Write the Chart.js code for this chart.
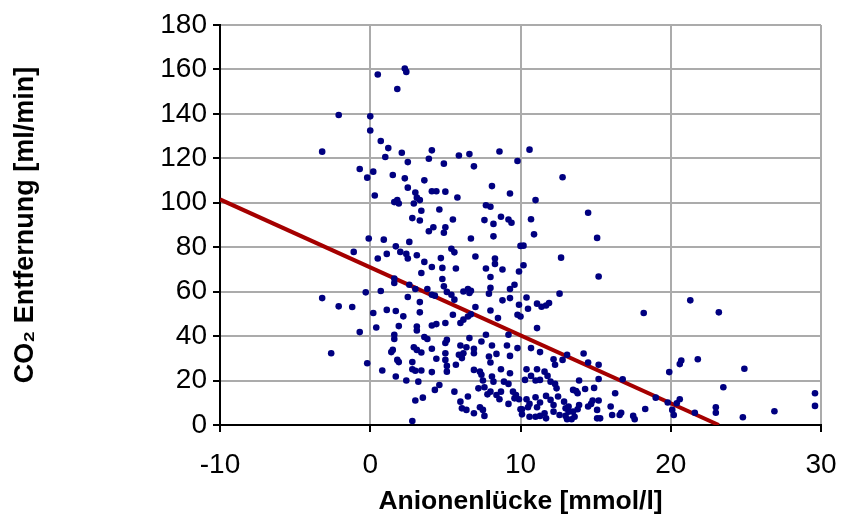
<!DOCTYPE html>
<html>
<head>
<meta charset="utf-8">
<script src="https://cdn.jsdelivr.net/npm/chart.js@4/dist/chart.umd.min.js"></script>
<style>
  html, body { margin: 0; padding: 0; background: #fff; }
  #wrap { width: 841px; height: 516px; }
</style>
</head>
<body>
<div id="wrap"><canvas id="chart" width="841" height="516"></canvas></div>
<script>
// anion gap [mmol/l] and CO2 removal [ml/min]
const anionGap = [
    2.3, 2.4, 0.5, 1.8, -2.1, 0.0, 0.0, -3.2, 0.7, 1.2, 2.1, 4.1, 1.0, 2.5, 3.9, -0.7, 0.2, -0.2, 1.5, 2.3, 3.6,
    4.9, 5.9, 6.6, 6.9, 8.6, 9.8, 10.6, 12.8, 8.1,
    0.3, 2.5, 3.0, 4.1, 4.4, 1.6, 1.8, 1.9, 2.9, 3.1, 3.3, 3.4, 2.8, 3.3, 3.9, 4.2, -0.1, 0.9, 2.6, 1.7,
    -1.1, 1.1, 2.0, 2.4, 2.5, 3.1, 0.5, 3.6, 4.1, 3.4, 1.6, 1.6, 2.6, 3.0, 3.8, 4.1, 4.3, -0.3, 0.7, -3.2,
    2.5, 3.3, -2.1, -1.2, 1.1, 1.7,
    0.2, 2.2, 3.3, 0.4, -0.7, 1.9, 3.1, 3.1, 4.1, 4.4, 1.6, 1.6, 3.6, 3.8, -2.6, 1.5, 1.4, 2.9, 3.1, 3.4,
    4.1, 4.4, -0.2, 1.8, 1.9, 2.8, 2.8, 3.0, 3.4, 4.1, 0.8, 1.7, 2.4, 3.2, 4.6, 4.3, 3.5, 3.0, 2.8,
    5.0, 5.8, 9.3, 11.0, 4.6, 7.7, 8.0, 5.5, 7.6, 8.2, 8.7, 9.2, 9.4, 10.7, 5.0, 4.9, 6.7, 8.2, 10.9, 10.0,
    10.2, 5.4, 5.6, 7.0, 8.3, 8.3, 12.7, 4.7, 4.8, 5.7, 7.7, 8.8, 10.2, 9.9, 8.0, 4.8, 9.6, 9.3, 8.0, 7.9,
    4.9, 5.1, 5.4, 6.2, 6.5, 6.6, 6.7, 8.8, 9.3, 10.4, 12.6, 5.6, 9.9, 10.5, 11.1, 11.4, 11.7, 11.9, 7.0, 8.0,
    5.5, 5.0, 6.0, 6.2, 6.5, 6.7, 8.5, 9.8, 10.0, 11.1, 9.2, 5.1, 5.0, 6.6, 7.7, 7.4, 8.1, 9.1, 9.8, 6.0,
    6.4, 6.9, 6.9, 5.0, 5.0, 5.1, 5.1, 5.9, 6.2, 6.1, 7.9, 8.4, 8.0, 9.3, 10.7, 11.3, 13.1, 12.8, 12.2, 12.3,
    5.7, 6.9, 7.3, 7.4, 7.5, 8.1, 8.2, 8.7, 9.3, 8.9, 9.2, 10.4, 11.1, 11.6, 11.8, 10.3, 10.7, 11.0, 11.3, 12.0,
    12.3, 12.4, 5.6, 6.5, 7.2, 7.6, 8.0, 7.8, 8.4, 8.6, 8.7, 9.5, 9.7, 9.9, 9.6, 9.2, 10.4, 10.6, 10.5, 10.1,
    11.0, 11.3, 11.1, 11.7, 12.0, 12.2, 12.5, 12.9, 13.0, 13.0, 13.2, 6.0, 6.1, 6.4, 6.9, 7.3, 7.5, 7.6, 10.0, 10.1,
    10.6, 11.0, 11.3, 11.6, 11.7, 12.2, 12.6, 13.1, 13.2,
    18.2, 14.2, 14.5, 15.2, 15.2, 13.9, 16.8, 14.3, 14.9, 13.5, 13.7, 13.8, 16.3, 14.8, 15.2, 14.7, 14.5, 13.9, 13.8, 16.0,
    15.1, 13.5, 13.6, 13.4, 15.1, 15.3, 16.1, 16.6, 16.7, 17.5, 17.6, 18.3, 19.0, 19.9, 20.6, 20.7, 21.8, 19.8, 20.1, 20.2,
    20.4, 20.6, 21.6,
    14.5, 15.1, 15.2, 21.3,
    23.2, 24.9, 23.5, 23.0, 23.0, 24.8, 26.9, 29.6, 29.6
];
const co2Removal = [
    160.4, 158.9, 157.7, 151.2, 139.5, 138.9, 132.5, 123.0, 127.8, 124.6, 122.5, 123.6, 120.6, 118.3, 119.8, 115.2, 114.0, 111.3, 112.5, 111.0, 110.1,
    117.6, 121.3, 121.9, 116.4, 123.1, 118.8, 123.9, 111.5, 107.5,
    103.3, 106.8, 104.6, 105.2, 105.2, 100.3, 101.2, 99.7, 99.7, 102.3, 101.2, 96.4, 93.1, 92.0, 87.2, 89.0, 83.9, 83.4, 82.4, 80.4,
    77.9, 77.0, 77.9, 77.0, 74.9, 76.4, 74.9, 73.4, 71.1, 68.4, 65.9, 63.9, 63.1, 61.2, 61.2, 58.6, 58.2, 59.7, 60.3, 57.1,
    57.6, 55.3, 53.4, 53.1, 51.8, 51.3,
    50.4, 48.9, 50.7, 43.9, 41.8, 44.5, 44.3, 42.5, 44.8, 45.4, 40.6, 38.7, 39.6, 38.7, 32.3, 33.8, 32.8, 35.0, 33.8, 32.6,
    34.3, 29.8, 27.8, 29.3, 28.3, 28.3, 25.1, 24.4, 24.5, 23.8, 24.5, 21.8, 20.0, 19.5, 18.0, 15.8, 12.3, 11.0, 1.8,
    105.0, 102.4, 104.2, 101.2, 97.0, 98.9, 98.2, 92.5, 92.2, 90.5, 93.7, 92.5, 91.0, 92.6, 89.0, 86.5, 83.9, 84.9, 85.8, 80.6,
    80.7, 79.3, 77.7, 75.8, 74.9, 72.5, 75.3, 75.1, 70.7, 70.4, 70.4, 70.0, 71.9, 69.1, 66.6, 65.7, 63.1, 61.2, 61.7, 59.1,
    62.4, 59.9, 58.6, 60.1, 61.2, 59.4, 60.4, 56.1, 57.1, 57.4, 59.1, 56.4, 54.1, 52.3, 54.6, 53.2, 53.8, 54.9, 53.1, 51.5,
    49.6, 45.9, 45.9, 47.4, 48.8, 49.8, 48.1, 49.6, 48.8, 43.6, 40.6, 38.3, 36.9, 39.1, 40.6, 37.6, 35.8, 35.8, 34.6, 35.8,
    35.0, 34.3, 32.3, 32.3, 29.3, 26.6, 24.0, 31.6, 32.3, 30.1, 30.8, 32.0, 28.1, 31.1, 34.6, 32.8, 31.6, 29.3, 29.6, 27.1,
    27.1, 24.8, 24.0, 22.6, 20.0, 21.8, 19.5, 25.1, 23.3, 19.5, 18.5, 25.1, 25.1, 24.0, 22.1, 20.3, 22.1, 20.0, 20.3, 19.5,
    18.5, 16.5, 15.0, 12.8, 16.5, 17.0, 15.0, 13.8, 13.5, 11.6, 15.0, 15.0, 13.5, 11.6, 12.0, 9.5, 11.6, 9.5, 8.0, 7.1,
    12.5, 10.1, 8.0, 13.1, 11.3, 9.0, 12.8, 10.5, 7.5, 4.1, 6.0, 10.5, 7.5, 6.8, 5.3, 8.0, 6.8, 4.1, 7.1, 4.8,
    3.7, 3.7, 4.1, 5.3, 3.0, 6.0, 4.5, 2.6, 8.3,
    50.4, 32.2, 28.1, 27.1, 20.7, 20.0, 20.6, 16.2, 16.7, 15.8, 15.3, 14.3, 14.3, 11.0, 11.0, 9.5, 8.3, 9.0, 7.1, 8.3,
    6.8, 6.0, 3.7, 2.6, 3.0, 3.0, 4.5, 4.5, 5.5, 4.1, 2.6, 7.2, 12.3, 23.8, 27.4, 29.0, 29.6, 10.1, 6.8, 4.5,
    9.8, 11.6, 5.5,
    95.5, 84.2, 66.8, 56.1,
    50.7, 25.3, 17.0, 8.0, 5.5, 3.5, 6.2, 14.3, 8.6
];

// regression line end points
const fitX = [-10, 23.2];
const fitY = [101.5, 0];

const xTicks = [-10, 0, 10, 20, 30];
const yTicks = [0, 20, 40, 60, 80, 100, 120, 140, 160, 180];

const FONT = 'Liberation Sans, Arial, sans-serif';

const ctx = document.getElementById('chart').getContext('2d');
new Chart(ctx, {
    type: 'scatter',
    data: {
        datasets: [{
            label: 'CO2',
            data: anionGap.map((x, i) => ({ x: x, y: co2Removal[i] })),
            backgroundColor: '#000080',
            borderWidth: 0,
            pointRadius: 3.3,
            pointHoverRadius: 3.3
        }, {
            type: 'line',
            label: 'Fit',
            data: fitX.map((x, i) => ({ x: x, y: fitY[i] })),
            borderColor: '#a50000',
            borderWidth: 4,
            pointRadius: 0,
            fill: false
        }]
    },
    options: {
        responsive: false,
        animation: false,
        layout: { padding: { left: 0, right: 20, top: 25, bottom: 0 } },
        plugins: {
            legend: { display: false },
            tooltip: { enabled: false }
        },
        scales: {
            x: {
                type: 'linear',
                min: -10,
                max: 30,
                afterFit: s => { s.height = 91; s.paddingLeft = 0; s.paddingRight = 0; },
                afterBuildTicks: s => { s.ticks = xTicks.map(v => ({ value: v })); },
                ticks: {
                    color: '#000',
                    font: { family: FONT, size: 28 },
                    padding: 16
                },
                grid: { color: '#ababab', lineWidth: 2, tickColor: '#000', tickLength: 7 },
                border: { color: '#000', width: 2 },
                title: {
                    display: true,
                    text: 'Anionenlücke [mmol/l]',
                    color: '#000',
                    font: { family: FONT, size: 26.5, weight: 'bold', lineHeight: 1.05 },
                    padding: { top: 0, bottom: 0 }
                }
            },
            y: {
                min: 0,
                max: 180,
                afterFit: s => { s.width = 220; s.paddingTop = 0; s.paddingBottom = 0; },
                afterBuildTicks: s => { s.ticks = yTicks.map(v => ({ value: v })); },
                ticks: {
                    color: '#000',
                    font: { family: FONT, size: 28 },
                    padding: 6
                },
                grid: { color: '#ababab', lineWidth: 2, tickColor: '#000', tickLength: 7 },
                border: { color: '#000', width: 2 },
                title: {
                    display: true,
                    text: 'CO₂ Entfernung [ml/min]',
                    color: '#000',
                    font: { family: FONT, size: 27, weight: 'bold' },
                    padding: { top: 9, bottom: 0 }
                }
            }
        }
    }
});
</script>
</body>
</html>
